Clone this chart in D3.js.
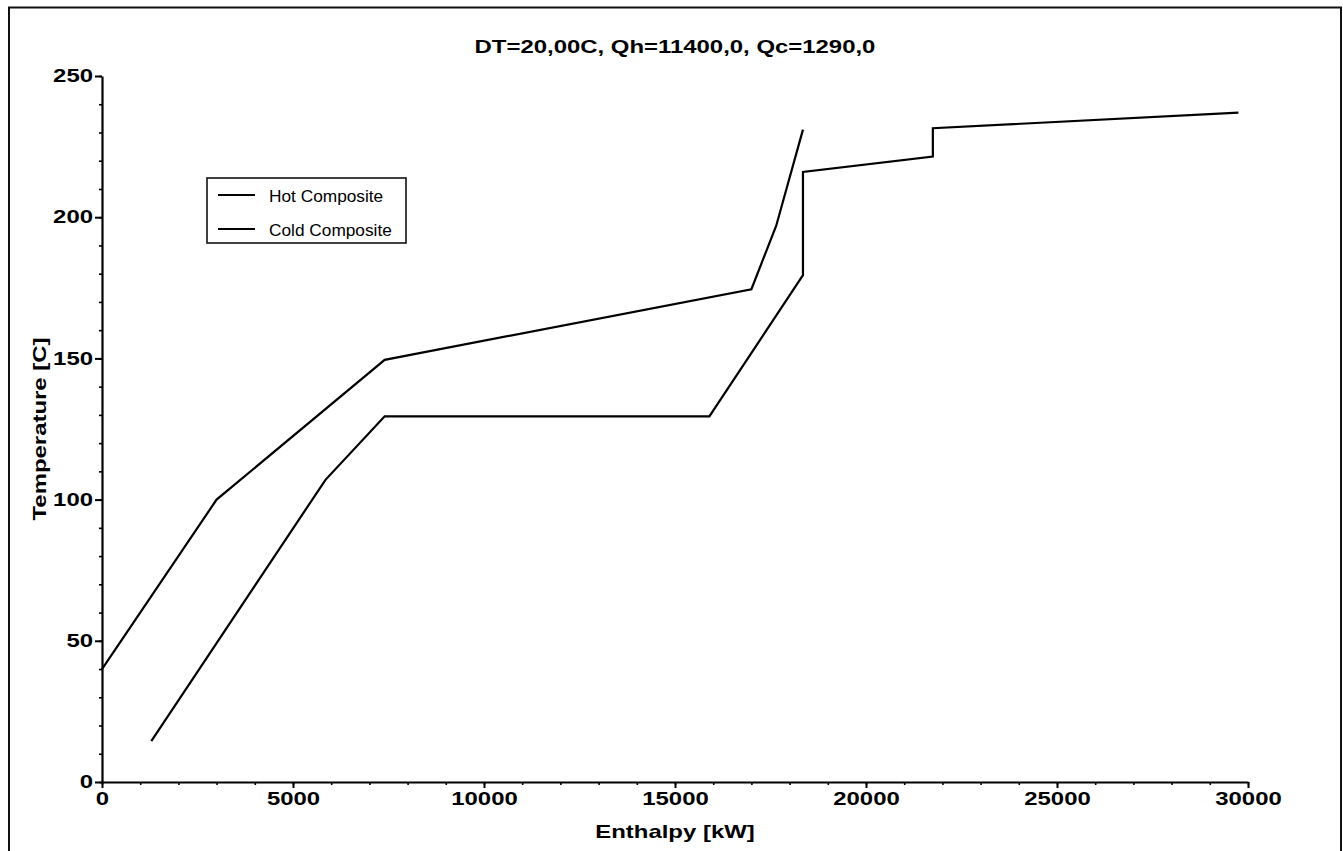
<!DOCTYPE html>
<html>
<head>
<meta charset="utf-8">
<script src="https://cdn.jsdelivr.net/npm/d3@7"></script>
<style>
  html, body { margin: 0; padding: 0; background: #fff; }
  svg { display: block; }
  text { font-family: "Liberation Sans", Arial, Helvetica, sans-serif; fill: #000; }
</style>
</head>
<body>
<svg id="chart" width="1343" height="851"></svg>
<script>
// Composite curves: temperature vs. cumulative enthalpy
const chartTitle = "DT=20,00C, Qh=11400,0, Qc=1290,0";
const xTitle = "Enthalpy [kW]";
const yTitle = "Temperature [C]";
const seriesNames = ["Hot Composite", "Cold Composite"];

const hotEnthalpy = [0, 3000, 7400, 17000, 17650, 18350];
const hotTemp = [40, 100, 149.5, 174.5, 197, 231];

const coldEnthalpy = [1290, 5850, 7400, 15900, 18350, 18350, 21750, 21750, 29750];
const coldTemp = [14.5, 107, 129.5, 129.5, 179.5, 216, 221.5, 231.5, 237];

const xTicks = [0, 5000, 10000, 15000, 20000, 25000, 30000];
const yTicks = [0, 50, 100, 150, 200, 250];
const xMinorTicks = [0, 1000, 2000, 3000, 4000, 5000, 6000, 7000, 8000, 9000, 10000, 11000, 12000, 13000, 14000, 15000,
  16000, 17000, 18000, 19000, 20000, 21000, 22000, 23000, 24000, 25000, 26000, 27000, 28000, 29000, 30000];
const yMinorTicks = [0, 10, 20, 30, 40, 50, 60, 70, 80, 90, 100, 110, 120, 130, 140, 150, 160, 170, 180, 190, 200,
  210, 220, 230, 240, 250];

const W = 1343, H = 851;
const svg = d3.select("#chart");
const WIDE = 1.33;   // wide bold lettering of the plot labels

const x = d3.scaleLinear().domain([0, 30000]).range([102, 1248]);
const y = d3.scaleLinear().domain([0, 250]).range([782, 76]);

// page frame (open at the bottom edge of the sheet)
svg.append("rect")
  .attr("x", 9).attr("y", 7.5)
  .attr("width", 1332).attr("height", 900)
  .attr("fill", "none").attr("stroke", "#111").attr("stroke-width", 2);

// minor ticks
svg.append("g")
  .attr("transform", `translate(0,${y(0)})`)
  .call(d3.axisBottom(x).tickValues(xMinorTicks).tickSize(3).tickFormat(""))
  .call(g => g.select(".domain").remove())
  .selectAll("line").attr("stroke", "#000").attr("stroke-width", 1.6);

svg.append("g")
  .attr("transform", `translate(${x(0)},0)`)
  .call(d3.axisLeft(y).tickValues(yMinorTicks).tickSize(3).tickFormat(""))
  .call(g => g.select(".domain").remove())
  .selectAll("line").attr("stroke", "#000").attr("stroke-width", 1.6);

// x axis
const gx = svg.append("g")
  .attr("transform", `translate(0,${y(0)})`)
  .call(d3.axisBottom(x).tickValues(xTicks).tickSize(6).tickSizeOuter(0).tickPadding(4).tickFormat(d3.format("d")));
gx.select(".domain").attr("stroke", "#000").attr("stroke-width", 2.2);
gx.selectAll(".tick line").attr("stroke", "#000").attr("stroke-width", 2);
gx.selectAll(".tick text")
  .attr("font-size", 18).attr("font-weight", "bold")
  .attr("transform", `scale(${WIDE},1)`);

// y axis
const gy = svg.append("g")
  .attr("transform", `translate(${x(0)},0)`)
  .call(d3.axisLeft(y).tickValues(yTicks).tickSize(7).tickSizeOuter(0).tickPadding(2).tickFormat(d3.format("d")));
gy.select(".domain").attr("stroke", "#000").attr("stroke-width", 2.2);
gy.selectAll(".tick line").attr("stroke", "#000").attr("stroke-width", 2);
gy.selectAll(".tick text")
  .attr("font-size", 18).attr("font-weight", "bold")
  .attr("x", -9 / WIDE)
  .attr("transform", `scale(${WIDE},1)`);

// composite curves
const line = d3.line().x(d => x(d[0])).y(d => y(d[1]));
const hot = d3.zip(hotEnthalpy, hotTemp);
const cold = d3.zip(coldEnthalpy, coldTemp);

svg.append("path").datum(hot)
  .attr("d", line).attr("fill", "none")
  .attr("stroke", "#000").attr("stroke-width", 2.2).attr("stroke-linejoin", "miter");
svg.append("path").datum(cold)
  .attr("d", line).attr("fill", "none")
  .attr("stroke", "#000").attr("stroke-width", 2.2).attr("stroke-linejoin", "miter");

// title and axis titles
svg.append("text")
  .attr("transform", `translate(${(x(0) + x(30000)) / 2},53) scale(${WIDE},1)`)
  .attr("text-anchor", "middle").attr("font-size", 18).attr("font-weight", "bold")
  .text(chartTitle);

svg.append("text")
  .attr("transform", `translate(${(x(0) + x(30000)) / 2},838) scale(${WIDE},1)`)
  .attr("text-anchor", "middle").attr("font-size", 18).attr("font-weight", "bold")
  .text(xTitle);

svg.append("text")
  .attr("transform", `translate(46,${(y(0) + y(250)) / 2}) rotate(-90) scale(${WIDE},1)`)
  .attr("text-anchor", "middle").attr("font-size", 18).attr("font-weight", "bold")
  .text(yTitle);

// legend
const legend = svg.append("g").attr("transform", "translate(207,178)");
legend.append("rect")
  .attr("x", 0).attr("y", 0).attr("width", 199).attr("height", 65)
  .attr("fill", "#fff").attr("stroke", "#111").attr("stroke-width", 1.6);
seriesNames.forEach((name, i) => {
  const cy = 17 + i * 34;
  legend.append("line")
    .attr("x1", 11).attr("x2", 48).attr("y1", cy).attr("y2", cy)
    .attr("stroke", "#000").attr("stroke-width", 2);
  legend.append("text")
    .attr("transform", `translate(62,${cy + 7}) scale(1.08,1)`)
    .attr("font-size", 16)
    .text(name);
});
</script>
</body>
</html>
